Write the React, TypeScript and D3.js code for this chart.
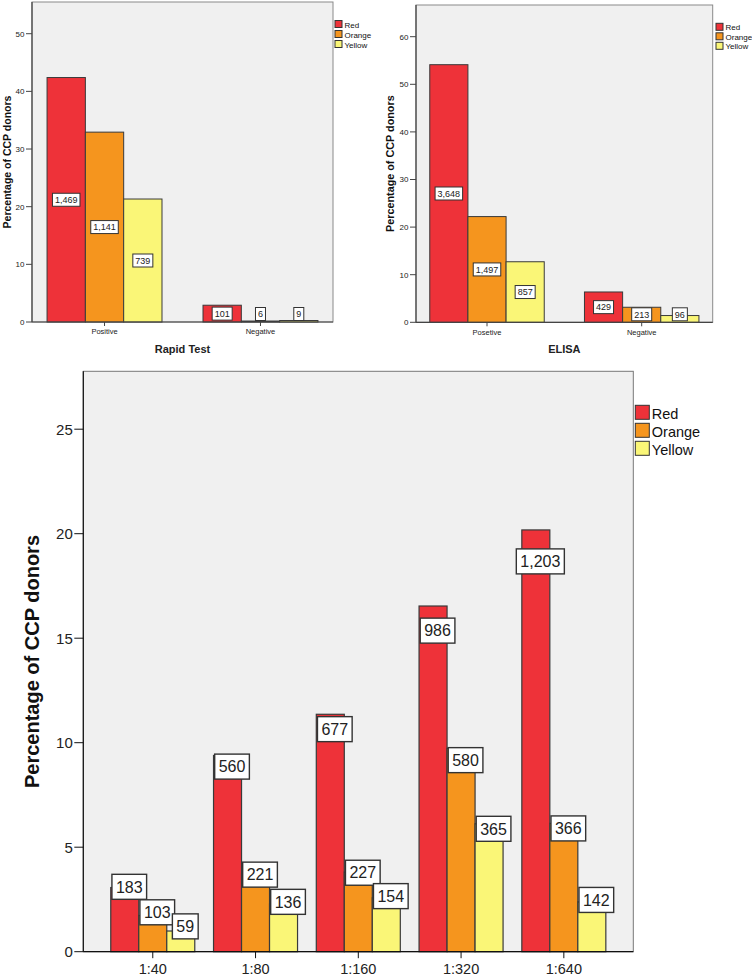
import React from "react";
import * as d3 from "d3";

const seriesNames = ["Red", "Orange", "Yellow"];
const seriesFill = ["#EE3239", "#F5951E", "#FAF677"];

const rapidCategories = ["Positive", "Negative"];
const rapidPercent = [
  [42.4, 32.93, 21.33],
  [2.91, 0.17, 0.26],
];
const rapidCounts = [
  [1469, 1141, 739],
  [101, 6, 9],
];
const rapidTicks = [0, 10, 20, 30, 40, 50];

const elisaCategories = ["Posetive", "Negative"];
const elisaPercent = [
  [54.12, 22.21, 12.72],
  [6.37, 3.16, 1.42],
];
const elisaCounts = [
  [3648, 1497, 857],
  [429, 213, 96],
];
const elisaTicks = [0, 10, 20, 30, 40, 50, 60];

const titerCategories = ["1:40", "1:80", "1:160", "1:320", "1:640"];
const titerPercent = [
  [3.07, 1.73, 0.99],
  [9.39, 3.71, 2.28],
  [11.36, 3.81, 2.58],
  [16.54, 9.73, 6.12],
  [20.18, 6.14, 2.38],
];
const titerCounts = [
  [183, 103, 59],
  [560, 221, 136],
  [677, 227, 154],
  [986, 580, 365],
  [1203, 366, 142],
];
const titerTicks = [0, 5, 10, 15, 20, 25];

const FONT = "'Liberation Sans', Arial, sans-serif";
const fmt = d3.format(",");

type Cfg = {
  left: number;
  right: number;
  top: number;
  bottom: number;
  yMax: number;
  pad: number;
  groupFrac: number;
  tickFont: number;
  tickLen: number;
  xTickLen: number;
  catFont: number;
  catBaseline: number;
  xTitle?: string;
  xTitleFont: number;
  xTitleBaseline: number;
  yTitleFont: number;
  yTitleX: number;
  labelFont: number;
  labelPadX: number;
  labelH: number;
  labelMode: "mid" | "top";
  legendX: number;
  legendY: number;
  legendSw: number;
  legendStep: number;
  legendFont: number;
  frameStroke: string;
  axisStroke: string;
  barStroke: number;
};

function Chart({
  cfg,
  categories,
  percents,
  counts,
  ticks,
}: {
  cfg: Cfg;
  categories: string[];
  percents: number[][];
  counts: number[][];
  ticks: number[];
}) {
  const x = d3
    .scalePoint<string>()
    .domain(categories)
    .range([cfg.left, cfg.right])
    .padding(cfg.pad);
  const step = x.step();
  const groupW = step * cfg.groupFrac;
  const xs = d3
    .scaleBand<string>()
    .domain(seriesNames)
    .range([-groupW / 2, groupW / 2])
    .padding(0);
  const y = d3.scaleLinear().domain([0, cfg.yMax]).range([cfg.bottom, cfg.top]);
  const y0 = y(0);
  const bw = xs.bandwidth();

  const bars: React.ReactNode[] = [];
  const labels: React.ReactNode[] = [];
  categories.forEach((c, i) => {
    seriesNames.forEach((s, j) => {
      const v = percents[i][j];
      const bx = (x(c) as number) + (xs(s) as number);
      const by = y(v);
      bars.push(
        <rect
          key={`b-${i}-${j}`}
          x={bx}
          y={by}
          width={bw}
          height={y0 - by}
          fill={seriesFill[j]}
          stroke="#3a3a3a"
          strokeWidth={cfg.barStroke}
        />
      );
      const txt = fmt(counts[i][j]);
      const tw = txt.length * 0.556 * cfg.labelFont - (txt.includes(",") ? 0.278 * cfg.labelFont : 0);
      const boxW = tw + cfg.labelPadX * 2;
      let cx = bx + bw / 2;
      let cy: number;
      const h = y0 - by;
      if (cfg.labelMode === "mid") {
        cy = by + h / 2;
      } else {
        cx += 4.5;
        cy = by + 0.09 * h - 6.5;
      }
      cy = Math.min(cy, y0 - cfg.labelH / 2 - 1.5);
      labels.push(
        <g key={`l-${i}-${j}`}>
          <rect
            x={cx - boxW / 2}
            y={cy - cfg.labelH / 2}
            width={boxW}
            height={cfg.labelH}
            fill="#ffffff"
            stroke="#333"
            strokeWidth={cfg.labelMode === "top" ? 1.4 : 1}
          />
          <text
            x={cx}
            y={cy + cfg.labelFont * 0.36}
            textAnchor="middle"
            fontSize={cfg.labelFont}
            fontFamily={FONT}
            fill="#222"
          >
            {txt}
          </text>
        </g>
      );
    });
  });

  const midY = (cfg.top + cfg.bottom) / 2;
  const midX = (cfg.left + cfg.right) / 2;

  return (
    <g>
      <rect
        x={cfg.left}
        y={cfg.top}
        width={cfg.right - cfg.left}
        height={cfg.bottom - cfg.top}
        fill="#F0F0F0"
        stroke={cfg.frameStroke}
        strokeWidth={1}
      />
      {bars}
      <line x1={cfg.left} x2={cfg.left} y1={cfg.top} y2={cfg.bottom} stroke={cfg.axisStroke} strokeWidth={1.2} />
      <line x1={cfg.left} x2={cfg.right} y1={y0} y2={y0} stroke={cfg.axisStroke} strokeWidth={1.2} />
      {ticks.map((t) => (
        <g key={`t-${t}`}>
          <line
            x1={cfg.left - cfg.tickLen}
            x2={cfg.left}
            y1={y(t)}
            y2={y(t)}
            stroke={cfg.axisStroke}
            strokeWidth={1}
          />
          <text
            x={cfg.left - cfg.tickLen - 1.5}
            y={y(t) + cfg.tickFont * 0.36}
            textAnchor="end"
            fontSize={cfg.tickFont}
            fontFamily={FONT}
            fill="#222"
          >
            {t}
          </text>
        </g>
      ))}
      {categories.map((c) => (
        <g key={`c-${c}`}>
          <line
            x1={x(c)}
            x2={x(c)}
            y1={y0}
            y2={y0 + cfg.xTickLen}
            stroke={cfg.axisStroke}
            strokeWidth={1}
          />
          <text
            x={x(c)}
            y={cfg.catBaseline}
            textAnchor="middle"
            fontSize={cfg.catFont}
            fontFamily={FONT}
            fill="#222"
          >
            {c}
          </text>
        </g>
      ))}
      {labels}
      {cfg.xTitle && (
        <text
          x={midX}
          y={cfg.xTitleBaseline}
          textAnchor="middle"
          fontSize={cfg.xTitleFont}
          fontWeight="bold"
          fontFamily={FONT}
          fill="#222"
        >
          {cfg.xTitle}
        </text>
      )}
      <text
        transform={`translate(${cfg.yTitleX},${midY}) rotate(-90)`}
        textAnchor="middle"
        fontSize={cfg.yTitleFont}
        fontWeight="bold"
        fontFamily={FONT}
        fill="#111"
      >
        Percentage of CCP donors
      </text>
      {seriesNames.map((s, j) => (
        <g key={`lg-${s}`}>
          <rect
            x={cfg.legendX}
            y={cfg.legendY + j * cfg.legendStep}
            width={cfg.legendSw}
            height={cfg.legendSw}
            fill={seriesFill[j]}
            stroke="#333"
            strokeWidth={1}
          />
          <text
            x={cfg.legendX + cfg.legendSw + 2.5}
            y={cfg.legendY + j * cfg.legendStep + cfg.legendSw}
            fontSize={cfg.legendFont}
            fontFamily={FONT}
            fill="#111"
          >
            {s}
          </text>
        </g>
      ))}
    </g>
  );
}

const rapidCfg: Cfg = {
  left: 32,
  right: 333,
  top: 2,
  bottom: 322,
  yMax: 55.5,
  pad: 0.465,
  groupFrac: 0.737,
  tickFont: 8,
  tickLen: 6,
  xTickLen: 4,
  catFont: 7.5,
  catBaseline: 334,
  xTitle: "Rapid Test",
  xTitleFont: 11,
  xTitleBaseline: 353,
  yTitleFont: 10.5,
  yTitleX: 10.5,
  labelFont: 9,
  labelPadX: 2.5,
  labelH: 13,
  labelMode: "mid",
  legendX: 335,
  legendY: 20.5,
  legendSw: 7,
  legendStep: 10,
  legendFont: 8,
  frameStroke: "#8a8a8a",
  axisStroke: "#444",
  barStroke: 1,
};

const elisaCfg: Cfg = {
  left: 416,
  right: 712.7,
  top: 5,
  bottom: 322.3,
  yMax: 66.66,
  pad: 0.459,
  groupFrac: 0.74,
  tickFont: 8,
  tickLen: 6,
  xTickLen: 4,
  catFont: 7.5,
  catBaseline: 334.5,
  xTitle: "ELISA",
  xTitleFont: 11,
  xTitleBaseline: 353,
  yTitleFont: 10.8,
  yTitleX: 394,
  labelFont: 9,
  labelPadX: 2.5,
  labelH: 13,
  labelMode: "mid",
  legendX: 716,
  legendY: 23.3,
  legendSw: 7,
  legendStep: 9.5,
  legendFont: 8,
  frameStroke: "#8a8a8a",
  axisStroke: "#444",
  barStroke: 1,
};

const titerCfg: Cfg = {
  left: 83.3,
  right: 633.3,
  top: 371.3,
  bottom: 951.7,
  yMax: 27.77,
  pad: 0.676,
  groupFrac: 0.8175,
  tickFont: 15,
  tickLen: 9,
  xTickLen: 6.5,
  catFont: 14.5,
  catBaseline: 973.5,
  xTitleFont: 11,
  xTitleBaseline: 0,
  yTitleFont: 20,
  yTitleX: 39,
  labelFont: 16,
  labelPadX: 4,
  labelH: 25,
  labelMode: "top",
  legendX: 635.3,
  legendY: 405.3,
  legendSw: 14,
  legendStep: 18,
  legendFont: 14.5,
  frameStroke: "#777",
  axisStroke: "#111",
  barStroke: 1.2,
};

export default function App() {
  return (
    <svg
      width={752}
      height={977}
      style={{ position: "absolute", left: 0, top: 0, background: "#ffffff" }}
    >
      <rect x={0} y={0} width={752} height={977} fill="#ffffff" />
      <Chart
        cfg={rapidCfg}
        categories={rapidCategories}
        percents={rapidPercent}
        counts={rapidCounts}
        ticks={rapidTicks}
      />
      <Chart
        cfg={elisaCfg}
        categories={elisaCategories}
        percents={elisaPercent}
        counts={elisaCounts}
        ticks={elisaTicks}
      />
      <Chart
        cfg={titerCfg}
        categories={titerCategories}
        percents={titerPercent}
        counts={titerCounts}
        ticks={titerTicks}
      />
    </svg>
  );
}
